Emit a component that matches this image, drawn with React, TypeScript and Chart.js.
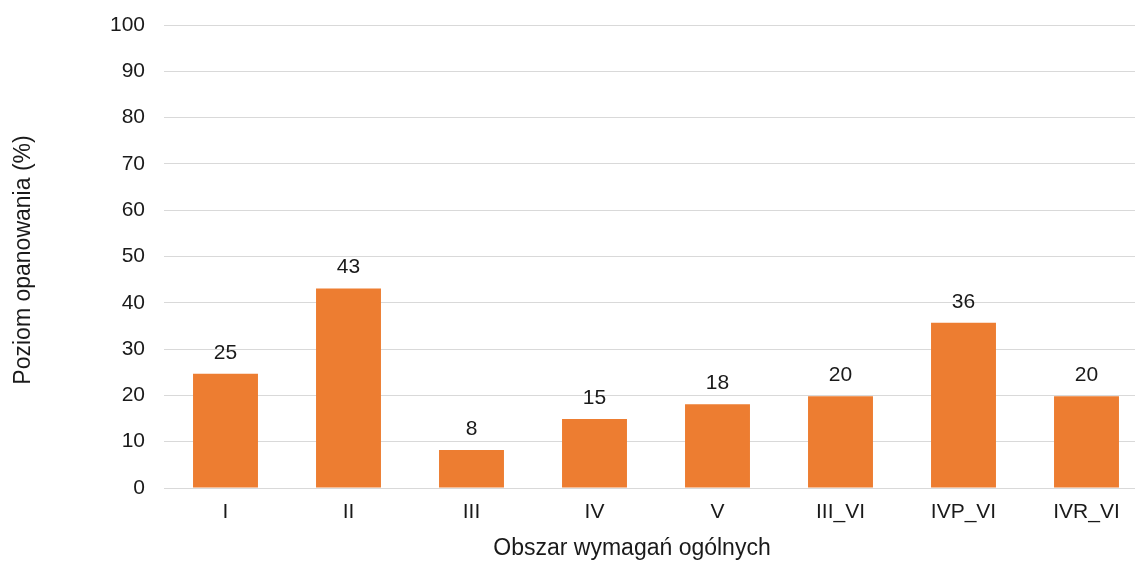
import { useEffect, useRef } from "react";
import { Chart, registerables } from "chart.js";

Chart.register(...registerables);

const categories = ["I", "II", "III", "IV", "V", "III_VI", "IVP_VI", "IVR_VI"];
const values = [24.7, 43.1, 8.2, 14.9, 18.1, 19.8, 35.7, 19.8];
const yTicks = [0, 10, 20, 30, 40, 50, 60, 70, 80, 90, 100];
const yTitle = "Poziom opanowania (%)";
const xTitle = "Obszar wymagań ogólnych";

const FONT = '"Liberation Sans", Arial, sans-serif';
const TEXT = "#1a1a1a";
const GRID = "#d9d9d9";
const BAR = "#ED7D31";

const valueLabels = {
  id: "valueLabels",
  afterDatasetsDraw(chart: any) {
    const ctx = chart.ctx;
    const meta = chart.getDatasetMeta(0);
    ctx.save();
    ctx.font = `21px ${FONT}`;
    ctx.fillStyle = TEXT;
    ctx.textAlign = "center";
    ctx.textBaseline = "alphabetic";
    meta.data.forEach((el: any, i: number) => {
      ctx.fillText(String(Math.round(values[i])), el.x, el.y - 15);
    });
    ctx.restore();
  },
};

const axisTitles = {
  id: "axisTitles",
  afterDraw(chart: any) {
    const ctx = chart.ctx;
    ctx.save();
    ctx.font = `23px ${FONT}`;
    ctx.fillStyle = TEXT;
    ctx.textAlign = "center";
    ctx.textBaseline = "alphabetic";
    ctx.fillText(xTitle, 632, 555);
    ctx.translate(30, 260);
    ctx.rotate(-Math.PI / 2);
    ctx.fillText(yTitle, 0, 0);
    ctx.restore();
  },
};

export default function App() {
  const ref = useRef<HTMLCanvasElement | null>(null);

  useEffect(() => {
    if (!ref.current) return;
    const chart = new Chart(ref.current, {
      type: "bar",
      data: {
        labels: categories,
        datasets: [
          {
            data: values,
            backgroundColor: BAR,
            borderWidth: 0,
            categoryPercentage: 1,
            barPercentage: 0.528,
          },
        ],
      },
      options: {
        responsive: false,
        animation: false,
        devicePixelRatio: 1,
        layout: { padding: { top: 25, right: 22, left: 0, bottom: 0 } },
        plugins: {
          legend: { display: false },
          tooltip: { enabled: false },
        },
        scales: {
          x: {
            grid: { display: false, drawTicks: false },
            border: { display: true, color: GRID, width: 1 },
            ticks: { font: { size: 21, family: FONT }, color: TEXT, padding: 12 },
            afterFit: (s: any) => {
              s.height = 80;
              s.paddingLeft = 0;
              s.paddingRight = 0;
            },
          },
          y: {
            min: 0,
            max: 100,
            afterBuildTicks: (s: any) => {
              s.ticks = yTicks.map((v) => ({ value: v }));
            },
            ticks: { font: { size: 21, family: FONT }, color: TEXT, padding: 19 },
            grid: { color: GRID, lineWidth: 1, drawTicks: false },
            border: { display: false },
            afterFit: (s: any) => {
              s.width = 164;
              s.paddingTop = 0;
              s.paddingBottom = 0;
            },
          },
        },
      } as any,
      plugins: [valueLabels, axisTitles],
    });
    return () => chart.destroy();
  }, []);

  return (
    <div
      style={{
        position: "absolute",
        left: 0,
        top: 0,
        width: 1135,
        height: 568,
        overflow: "hidden",
        background: "#fff",
      }}
    >
      <canvas ref={ref} width={1170} height={568} style={{ display: "block" }} />
    </div>
  );
}
